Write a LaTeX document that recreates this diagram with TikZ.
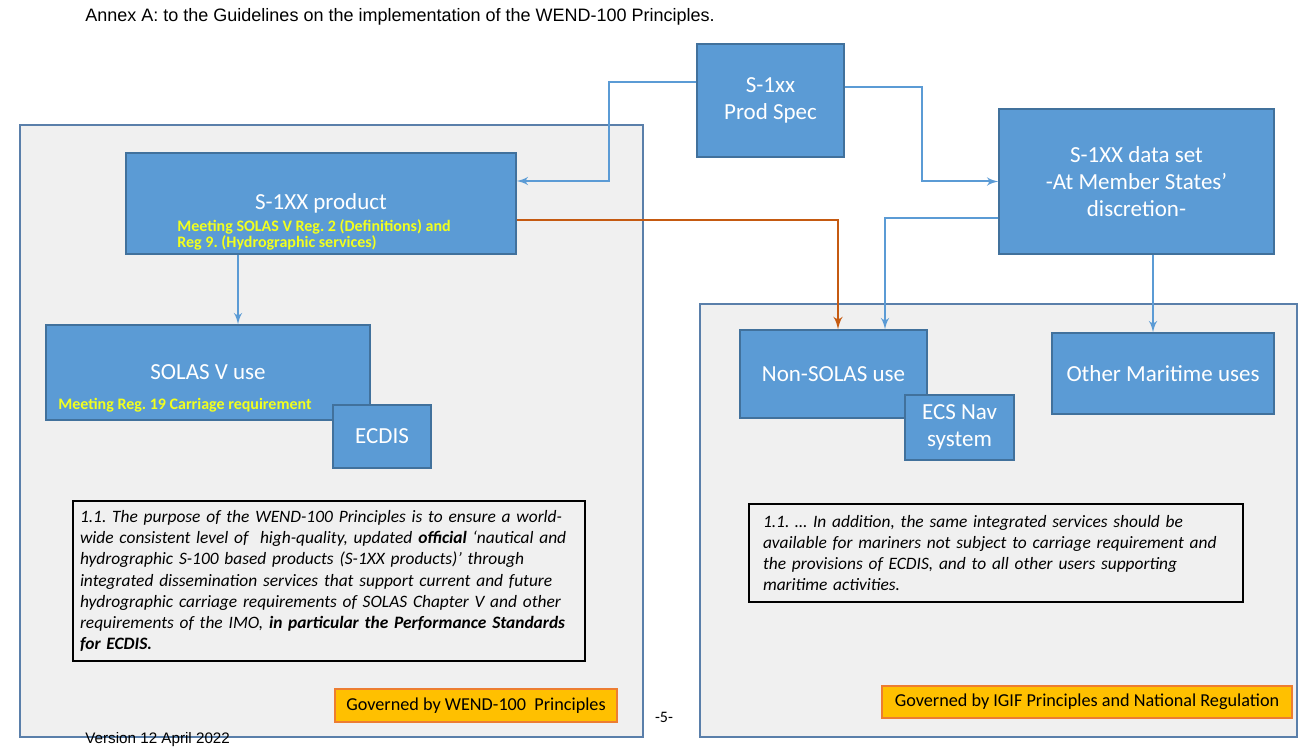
\documentclass[tikz,border=0pt]{standalone}
\usepackage{fontspec}
\setmainfont{Carlito}
\newfontfamily\arialfont{Liberation Sans}
\usetikzlibrary{arrows}
\frenchspacing

\definecolor{boxblue}{HTML}{5B9BD5}
\definecolor{boxline}{HTML}{41719C}
\definecolor{panelgray}{HTML}{F0F0F0}
\definecolor{panelline}{HTML}{5A7FAA}
\definecolor{notegold}{HTML}{FFC000}
\definecolor{noteline}{HTML}{ED7D31}
\definecolor{linkorange}{HTML}{C55A11}
\definecolor{noteyellow}{HTML}{F2FF1E}

\begin{document}
\begin{tikzpicture}
		[x=0.5pt,y=-0.5pt,
		box/.style={draw=boxline,line width=0.6pt,fill=boxblue,text=white,font=\fontsize{11.5}{13.5}\selectfont,align=center,inner sep=0pt},
		yellownote/.style={text=noteyellow,font=\fontsize{8}{6.6}\selectfont\bfseries,align=left,inner sep=0pt},
		quote/.style={draw=black,line width=0.9pt,font=\fontsize{8.7}{10.6}\selectfont\itshape,align=left,inner ysep=0pt},
		gov/.style={draw=noteline,line width=0.8pt,fill=notegold,font=\fontsize{9.1}{10}\selectfont,inner sep=0pt},
		panel/.style={draw=panelline,line width=0.7pt,fill=panelgray},
		edge/.style={->,>=latex',draw=boxblue,line width=1pt},
		oedge/.style={->,>=latex',draw=linkorange,line width=1.2pt}]
		\useasboundingbox (0,0) rectangle (1299,747);
		\fill[white] (0,0) rectangle (1299,747);
		
		% header and footer
		\node[font=\arialfont\fontsize{9}{10}\selectfont,anchor=west,inner sep=0pt] (annex) at (85,17) {Annex A: to the Guidelines on the implementation of the WEND-100 Principles.};
		
		% the two areas
		\draw[panel] (20,125) rectangle (643,737);
		\draw[panel] (700,304) rectangle (1297,737);
		
		\node[font=\arialfont\fontsize{7.6}{9}\selectfont,anchor=west,inner sep=0pt] (version) at (85,740) {Version 12 April 2022};
		\node[font=\fontsize{8}{9}\selectfont,inner sep=0pt] (page) at (664,717) {-5-};
		
		% boxes
		\node[box,minimum width=73.5pt,minimum height=56.5pt] (spec) at (770.5,100.5) {S-1xx\\Prod Spec};
		\node[box,minimum width=137.5pt,minimum height=72.5pt] (dataset) at (1136.5,181.5) {S-1XX data set\\-At Member States’\\discretion-};
		\node[box,minimum width=195pt,minimum height=50.5pt] (product) at (321,203.5) {S-1XX product};
		\node[yellownote,anchor=north west] (prodnote) at (177,219) {Meeting SOLAS V Reg. 2 (Definitions) and\\Reg 9. (Hydrographic services)};
		\node[box,minimum width=162pt,minimum height=47.5pt] (solas) at (208,372.5) {SOLAS V use};
		\node[yellownote,anchor=west] (solasnote) at (58,405) {Meeting Reg. 19 Carriage requirement};
		\node[box,minimum width=49pt,minimum height=31.5pt] (ecdis) at (382,436.5) {ECDIS};
		\node[box,minimum width=93.5pt,minimum height=44pt] (nonsolas) at (833.5,374) {Non-SOLAS use};
		\node[box,minimum width=54.5pt,minimum height=32.5pt] (ecs) at (959.5,427.5) {ECS Nav\\system};
		\node[box,minimum width=111pt,minimum height=40.5pt] (other) at (1163,373.5) {Other Maritime uses};
		
		% quoted principles
		\node[quote,text width=249pt,minimum height=80pt] (purpose) at (329,581) {1.1. The purpose of the WEND-100 Principles is to ensure a world-\\
			wide consistent level of\ \ high-quality, updated \textbf{official} ‘nautical and\\
			hydrographic S-100 based products (S-1XX products)’ through\\
			integrated dissemination services that support current and future\\
			hydrographic carriage requirements of SOLAS Chapter V and other\\
			requirements of the IMO, \textbf{in particular the Performance Standards}\\
			\textbf{for ECDIS.}};
		\node[quote,text width=233pt,inner xsep=7pt,minimum height=49pt] (addition) at (996,553) {1.1. … In addition, the same integrated services should be\\
			available for mariners not subject to carriage requirement and\\
			the provisions of ECDIS, and to all other users supporting\\
			maritime activities.};
		
		\node[gov,minimum width=141pt,minimum height=16.5pt] (govwend) at (476,705.5) {Governed by WEND-100\ \ Principles};
		\node[gov,minimum width=205pt,minimum height=16pt] (goviigf) at (1087,702) {Governed by IGIF Principles and National Regulation};
		
		% connectors
		\draw[edge] ([yshift=9.25pt]spec.west) -| (609,181) -- ([yshift=11.25pt]product.east);
		\draw[edge] ([yshift=6.75pt]spec.east) -| (922,181.5) -- (dataset.west);
		\draw[oedge] ([yshift=-8.25pt]product.east) -| ([xshift=2.25pt]nonsolas.north);
		\draw[edge] ([yshift=-18.25pt]dataset.west) -| ([xshift=25.75pt]nonsolas.north);
		\draw[edge] ([xshift=8.25pt]dataset.south) -- ([xshift=-5pt]other.north);
		\draw[edge] ([xshift=-41.5pt]product.south) -- ([xshift=15pt]solas.north);
		\end{tikzpicture}
\end{document}
